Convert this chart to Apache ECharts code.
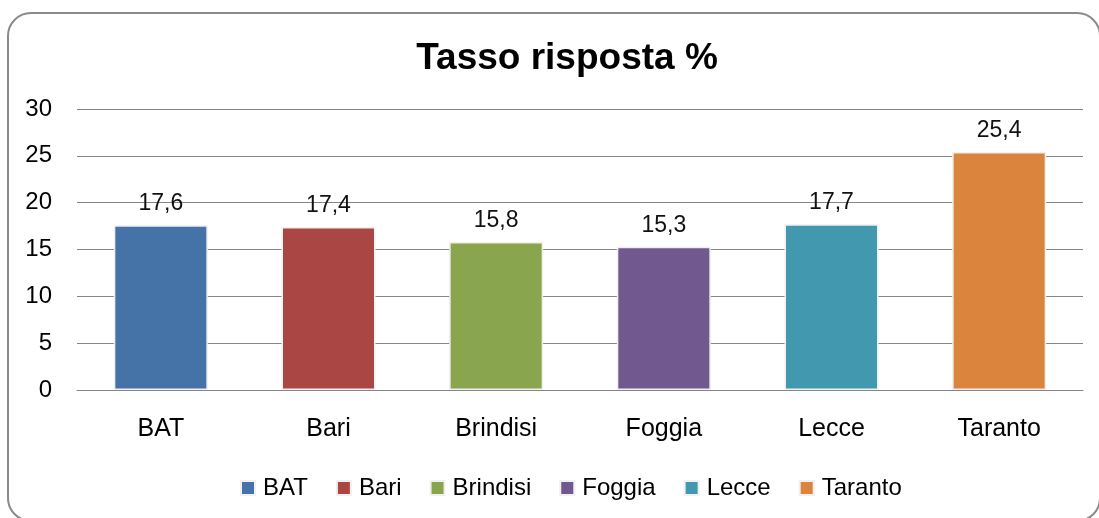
<!DOCTYPE html>
<html><head><meta charset="utf-8">
<script src="https://cdn.jsdelivr.net/npm/echarts@6/dist/echarts.min.js"></script>
<style>html,body{margin:0;padding:0;background:#fff;overflow:hidden;}#box{position:absolute;left:7px;top:12px;width:1094px;height:510px;border:2px solid #8a8a8a;border-radius:24px;box-sizing:border-box;}#c{position:absolute;left:0;top:0;width:1099px;height:518px;}</style>
</head><body>
<div id="box"></div>
<div id="c"></div>
<script>
const categories = ['BAT','Bari','Brindisi','Foggia','Lecce','Taranto'];
const values = [17.6, 17.4, 15.8, 15.3, 17.7, 25.4];
const colors = ['#4572A7','#AA4643','#89A54E','#71588F','#4198AF','#DB843D'];
const yTicks = [0,5,10,15,20,25,30];
const titleText = 'Tasso risposta %';

const FONT = '"Liberation Sans", Arial, sans-serif';
const chart = echarts.init(document.getElementById('c'));
const series = categories.map((name, i) => ({
  name: name,
  type: 'bar',
  stack: 'all',
  barWidth: 94,
  data: categories.map((c, j) => j === i ? values[i] : null),
  itemStyle: { color: colors[i], borderColor: '#f0f0f0', borderWidth: 1.5 },
  label: { show: true, position: 'top', distance: 10, color: '#111', fontFamily: FONT, fontSize: 23,
    formatter: p => String(p.value).replace('.', ',') }
}));
chart.setOption({
  animation: false,
  title: { text: titleText, left: 562, textAlign: 'center', top: 35,
    textStyle: { fontFamily: FONT, fontWeight: 'bold', fontSize: 37, color: '#000' } },
  legend: { top: 471, left: 235, itemWidth: 14, itemHeight: 14, itemGap: 28,
    icon: 'rect', textStyle: { fontFamily: FONT, fontSize: 24, color: '#000', padding: [0,0,0,3] },
    data: categories },
  grid: { left: 77, right: 16, top: 109, bottom: 128, containLabel: false },
  xAxis: { type: 'category', data: categories,
    axisLine: { lineStyle: { color: '#868686' } }, axisTick: { show: false },
    axisLabel: { fontFamily: FONT, fontSize: 25, color: '#000', margin: 27 } },
  yAxis: { type: 'value', min: yTicks[0], max: yTicks[yTicks.length-1], interval: 5,
    axisLine: { show: false }, axisTick: { show: false },
    splitLine: { lineStyle: { color: '#868686', width: 1 } },
    axisLabel: { fontFamily: FONT, fontSize: 24, color: '#000', margin: 25 } },
  series: series
});
</script>
</body></html>
